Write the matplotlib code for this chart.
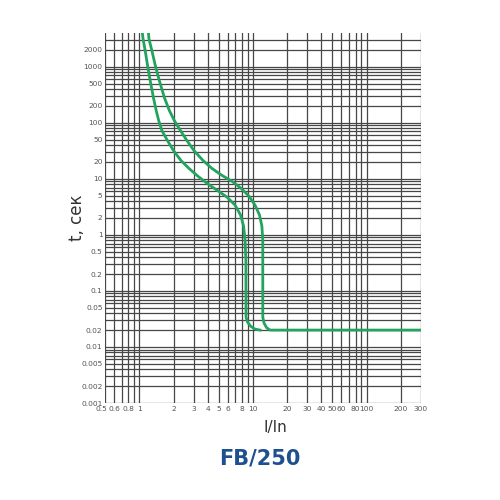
import numpy as np
import matplotlib
matplotlib.use("Agg")
import matplotlib.pyplot as plt
from matplotlib import font_manager
from matplotlib.transforms import ScaledTranslation

# Кривые время-токовой характеристики (читано с картинки)
i_low = [1.06, 1.074, 1.125, 1.181, 1.245, 1.328, 1.406, 1.479, 1.578, 1.765, 1.994, 2.320, 2.730,
         3.277, 3.933, 4.818, 5.901, 6.941, 7.762, 8.249, 8.504, 8.645, 8.68, 8.95, 9.51, 10.41, 11.53]
t_low = [4000, 3190, 1880, 1020, 554, 277, 163, 108, 72, 48, 31.9, 21.2, 15.3,
         11.1, 8.32, 6.26, 4.71, 3.40, 2.26, 1.44, 0.816, 0.361, 0.034, 0.0277, 0.0235, 0.0208, 0.02]

i_high = [1.20, 1.21, 1.29, 1.383, 1.500, 1.661, 1.838, 2.034, 2.30, 2.62, 3.02, 3.63, 4.35, 5.33,
          6.53, 7.84, 9.22, 10.4, 11.4, 11.96, 12.18, 12.18, 12.5, 13.15, 14.1, 300]
t_high = [4000, 3190, 1880, 1020, 554, 277, 163, 108, 72, 48, 31.9, 21.2, 15.3, 11.5,
          9.03, 6.79, 4.90, 3.40, 2.26, 1.44, 0.816, 0.034, 0.0266, 0.0221, 0.02, 0.02]

x_ticks = [0.5, 0.6, 0.8, 1, 2, 3, 4, 5, 6, 8, 10, 20, 30, 40, 50, 60, 80, 100, 200, 300]
x_labels = ['0.5', '0.6', '0.8', '1', '2', '3', '4', '5', '6', '8', '10', '20', '30', '40', '50', '60', '80', '100', '200', '300']
y_ticks = [0.001, 0.002, 0.005, 0.01, 0.02, 0.05, 0.1, 0.2, 0.5, 1, 2, 5, 10, 20, 50, 100, 200, 500, 1000, 2000]
y_labels = ['0.001', '0.002', '0.005', '0.01', '0.02', '0.05', '0.1', '0.2', '0.5', '1', '2', '5', '10', '20', '50', '100', '200', '500', '1000', '2000']

# линии сетки: 1..9 на каждой декаде
x_grid = [m * 10.0**k for k in range(-1, 3) for m in range(1, 10)]
x_grid = [v for v in x_grid if 0.5 <= v <= 300]
y_grid = [m * 10.0**k for k in range(-3, 4) for m in range(1, 10)]
y_grid = [v for v in y_grid if 0.001 <= v <= 3000]

# узкий шрифт для подписей, если есть
names = {f.name for f in font_manager.fontManager.ttflist}
narrow = [n for n in ['Liberation Sans Narrow', 'DejaVu Sans Condensed'] if n in names]
tick_family = narrow + ['DejaVu Sans']
tick_size = 6.3 if narrow else 5.4

fig = plt.figure(figsize=(5, 5), dpi=100)
ax = fig.add_axes([0.2106, 0.194, 0.631, 0.74])
ax.set_xscale('log')
ax.set_yscale('log')
ax.set_xlim(0.5, 300)
ax.set_ylim(0.001, 4000)

grid_col = '#474747'
for v in x_grid:
    ax.axvline(v, color=grid_col, lw=0.9, zorder=1)
for v in y_grid:
    ax.axhline(v, color=grid_col, lw=0.9, zorder=1)

green = '#22a35e'
ax.plot(i_low, t_low, color=green, lw=2.0, solid_joinstyle='round', zorder=3)
ax.plot(i_high, t_high, color=green, lw=2.0, solid_joinstyle='round', zorder=3)

for s in ax.spines.values():
    s.set_visible(False)
ax.minorticks_off()
ax.set_xticks(x_ticks)
ax.set_xticklabels(x_labels)
ax.set_yticks(y_ticks)
ax.set_yticklabels(y_labels)
ax.tick_params(length=0, labelsize=tick_size, labelcolor='#555555', pad=2)
for lab in ax.get_xticklabels() + ax.get_yticklabels():
    lab.set_family(tick_family)

# подпись 0.5 чуть левее, чтобы не налезала на 0.6
first = ax.get_xticklabels()[0]
first.set_transform(first.get_transform() + ScaledTranslation(-3 / 72, 0, fig.dpi_scale_trans))

ax.set_xlabel('I/In', fontsize=11, color='#333333')
ax.xaxis.set_label_coords(0.54, -0.045)
ax.set_ylabel('t, сек', fontsize=12, color='#333333')
ax.yaxis.set_label_coords(-0.06, 0.5)

fig.text(0.52, 0.084, 'FB/250', fontsize=15, fontweight='bold', color='#1e4f8f',
         ha='center', va='center')

fig.savefig('out.png', dpi=100)
